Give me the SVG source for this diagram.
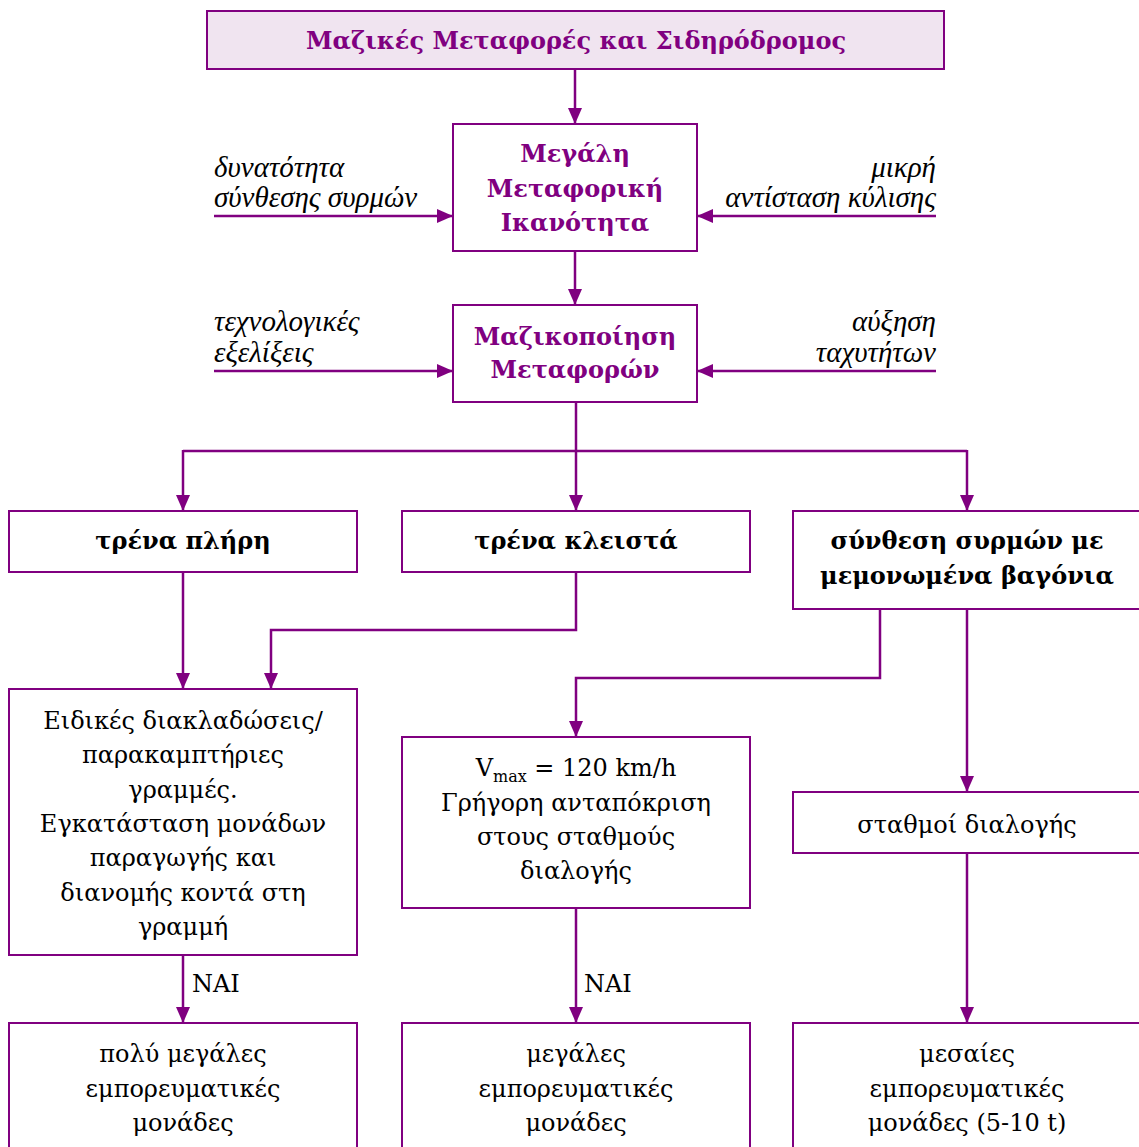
<svg xmlns="http://www.w3.org/2000/svg" width="1139" height="1147" viewBox="0 0 1139 1147">
<defs>
<marker id="ah" markerUnits="userSpaceOnUse" markerWidth="16" markerHeight="14" refX="15" refY="7" orient="auto">
<path d="M0,0 L16,7 L0,14 Z" fill="#800080"/>
</marker>
<style>
.box{fill:#fff;stroke:#800080;stroke-width:2}
.title{fill:#F0E4F0;stroke:#800080;stroke-width:2}
.c{fill:none;stroke:#800080;stroke-width:2.5}
.a{fill:none;stroke:#800080;stroke-width:2.5;marker-end:url(#ah)}
text{font-family:"DejaVu Serif","Liberation Serif",serif;font-size:24px;fill:#000}
.bp{font-weight:bold;fill:#800080;text-anchor:middle}
.bb{font-weight:bold;text-anchor:middle}
.m{text-anchor:middle}
.i{font-family:"Liberation Serif","DejaVu Serif",serif;font-style:italic;font-size:29px}
.r{text-anchor:end}
</style>
</defs>
<rect width="1139" height="1147" fill="#fff"/>
<g id="connectors">
<line class="a" x1="575" y1="70" x2="575" y2="123"/>
<line class="a" x1="575" y1="252" x2="575" y2="304"/>
<line class="a" x1="214" y1="216" x2="452" y2="216"/>
<line class="a" x1="936" y1="216" x2="698" y2="216"/>
<line class="a" x1="214" y1="371" x2="452" y2="371"/>
<line class="a" x1="936" y1="371" x2="698" y2="371"/>
<line class="c" x1="576" y1="403" x2="576" y2="451"/>
<polyline class="c" points="183,451 967,451"/>
<line class="a" x1="183" y1="450" x2="183" y2="510"/>
<line class="a" x1="576" y1="450" x2="576" y2="510"/>
<line class="a" x1="967" y1="450" x2="967" y2="510"/>
<line class="a" x1="183" y1="573" x2="183" y2="688"/>
<polyline class="a" points="576,573 576,630 271,630 271,688"/>
<polyline class="a" points="880,610 880,678 576,678 576,736"/>
<line class="a" x1="967" y1="610" x2="967" y2="791"/>
<line class="a" x1="183" y1="956" x2="183" y2="1022"/>
<line class="a" x1="576" y1="909" x2="576" y2="1022"/>
<line class="a" x1="967" y1="854" x2="967" y2="1022"/>
<text x="192" y="992">ΝΑΙ</text>
<text x="584" y="992">ΝΑΙ</text>
</g>
<g id="n-title">
<rect class="title" x="207" y="11" width="737" height="58"/>
<text class="bp" x="576" y="49">Μαζικές Μεταφορές και Σιδηρόδρομος</text>
</g>
<g id="n-capacity">
<rect class="box" x="453" y="124" width="244" height="127"/>
<text class="bp" x="575" y="162">Μεγάλη</text>
<text class="bp" x="575" y="197">Μεταφορική</text>
<text class="bp" x="575" y="231">Ικανότητα</text>
</g>
<g id="l-synthesis">
<text class="i" x="214" y="177">δυνατότητα</text>
<text class="i" x="214" y="207">σύνθεσης συρμών</text>
</g>
<g id="l-resistance">
<text class="i r" x="936" y="177">μικρή</text>
<text class="i r" x="936" y="207">αντίσταση κύλισης</text>
</g>
<g id="n-mass">
<rect class="box" x="453" y="305" width="244" height="97"/>
<text class="bp" x="575" y="345">Μαζικοποίηση</text>
<text class="bp" x="575" y="378">Μεταφορών</text>
</g>
<g id="l-tech">
<text class="i" x="214" y="331">τεχνολογικές</text>
<text class="i" x="214" y="362">εξελίξεις</text>
</g>
<g id="l-speed">
<text class="i r" x="936" y="331">αύξηση</text>
<text class="i r" x="936" y="362">ταχυτήτων</text>
</g>
<g id="n-full">
<rect class="box" x="9" y="511" width="348" height="61"/>
<text class="bb" x="183" y="549">τρένα πλήρη</text>
</g>
<g id="n-closed">
<rect class="box" x="402" y="511" width="348" height="61"/>
<text class="bb" x="576" y="549">τρένα κλειστά</text>
</g>
<g id="n-single">
<rect class="box" x="793" y="511" width="350" height="98"/>
<text class="bb" x="967" y="549">σύνθεση συρμών με</text>
<text class="bb" x="967" y="584">μεμονωμένα βαγόνια</text>
</g>
<g id="n-sidings">
<rect class="box" x="9" y="689" width="348" height="266"/>
<text class="m" x="183" y="729">Ειδικές διακλαδώσεις/</text>
<text class="m" x="183" y="763">παρακαμπτήριες</text>
<text class="m" x="183" y="798">γραμμές.</text>
<text class="m" x="183" y="832">Εγκατάσταση μονάδων</text>
<text class="m" x="183" y="866">παραγωγής και</text>
<text class="m" x="183" y="901">διανομής κοντά στη</text>
<text class="m" x="183" y="935">γραμμή</text>
</g>
<g id="n-vmax">
<rect class="box" x="402" y="737" width="348" height="171"/>
<text class="m" x="576" y="776">V<tspan font-size="16" dy="6">max</tspan><tspan dy="-6"> = 120 km/h</tspan></text>
<text class="m" x="576" y="811">Γρήγορη ανταπόκριση</text>
<text class="m" x="576" y="845">στους σταθμούς</text>
<text class="m" x="576" y="879">διαλογής</text>
</g>
<g id="n-stations">
<rect class="box" x="793" y="792" width="350" height="61"/>
<text class="m" x="967" y="833">σταθμοί διαλογής</text>
</g>
<g id="n-verylarge">
<rect class="box" x="9" y="1023" width="348" height="130"/>
<text class="m" x="183" y="1062">πολύ μεγάλες</text>
<text class="m" x="183" y="1097">εμπορευματικές</text>
<text class="m" x="183" y="1131">μονάδες</text>
</g>
<g id="n-large">
<rect class="box" x="402" y="1023" width="348" height="130"/>
<text class="m" x="576" y="1062">μεγάλες</text>
<text class="m" x="576" y="1097">εμπορευματικές</text>
<text class="m" x="576" y="1131">μονάδες</text>
</g>
<g id="n-medium">
<rect class="box" x="793" y="1023" width="350" height="130"/>
<text class="m" x="967" y="1062">μεσαίες</text>
<text class="m" x="967" y="1097">εμπορευματικές</text>
<text class="m" x="967" y="1131">μονάδες (5-10 t)</text>
</g>
</svg>
